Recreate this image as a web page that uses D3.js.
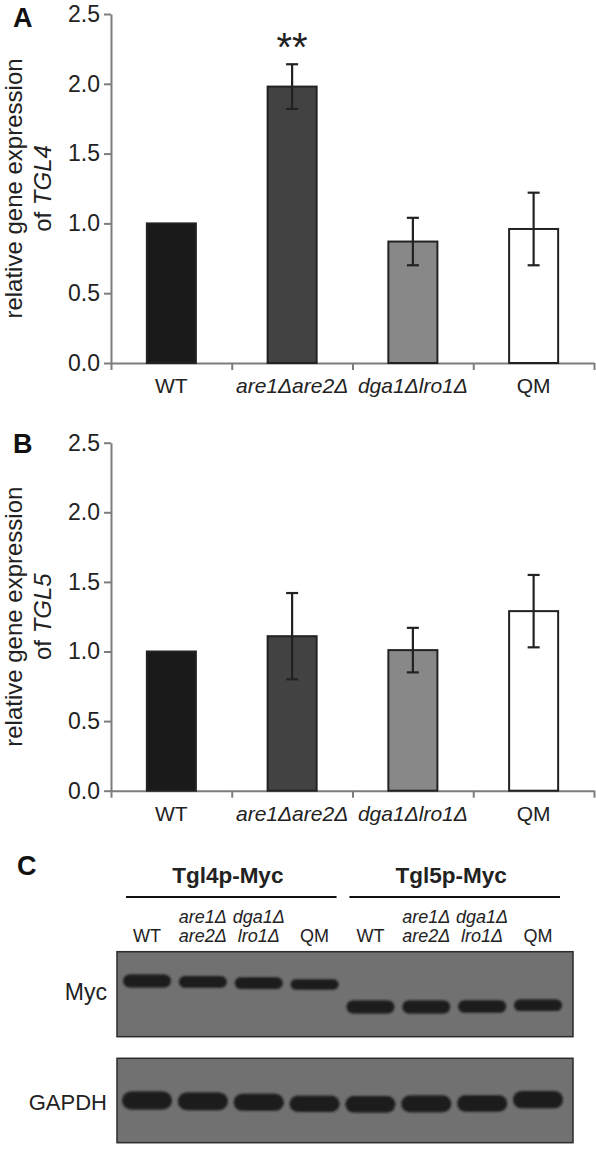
<!DOCTYPE html>
<html><head><meta charset="utf-8">
<script src="https://cdn.jsdelivr.net/npm/d3@7/dist/d3.min.js"></script>
<style>
body{margin:0;background:#fff}
svg{display:block;font-family:"Liberation Sans",Arial,Helvetica,sans-serif}
</style>
</head><body>
<svg id="chart" width="596" height="1165"></svg>
<script>
// ---------- data ----------
const categories = ["WT", "are1Δare2Δ", "dga1Δlro1Δ", "QM"];
const italicCategory = [false, true, true, false];
const barColors = ["#1a1a1a", "#424242", "#888888", "#ffffff"];
const yTicks = [0, 0.5, 1.0, 1.5, 2.0, 2.5];

const tgl4Mean  = [1.00, 1.98, 0.87, 0.96];
const tgl4Upper = [null, 2.14, 1.04, 1.22];
const tgl4Lower = [null, 1.82, 0.70, 0.70];
const tgl4Signif = ["", "**", "", ""];

const tgl5Mean  = [1.00, 1.11, 1.01, 1.29];
const tgl5Upper = [null, 1.42, 1.17, 1.55];
const tgl5Lower = [null, 0.80, 0.85, 1.03];
const tgl5Signif = ["", "", "", ""];

// western blot (panel C)
const blotGroups = ["Tgl4p-Myc", "Tgl5p-Myc"];
const blotLaneTop = ["", "are1Δ", "dga1Δ", "", "", "are1Δ", "dga1Δ", ""];
const blotLaneBottom = ["WT", "are2Δ", "lro1Δ", "QM", "WT", "are2Δ", "lro1Δ", "QM"];
const blotLaneGroup = [0, 0, 0, 0, 1, 1, 1, 1];
const blotRows = ["Myc", "GAPDH"];
// relative migration (Rf, 0 = top of membrane) and relative band signal
const mycRf     = [0.345, 0.355, 0.37, 0.385, 0.65, 0.65, 0.645, 0.63];
const mycSignal = [1.00, 0.92, 0.90, 0.80, 1.00, 1.00, 0.97, 0.90];
const gapdhRf     = [0.50, 0.51, 0.52, 0.54, 0.545, 0.54, 0.535, 0.49];
const gapdhSignal = [1.00, 0.98, 0.95, 0.90, 0.92, 0.92, 0.92, 0.95];

// ---------- drawing ----------
const svg = d3.select("#chart");
const ink = "#222";
const axisGray = "#7d7d7d";

function drawPanel(opts) {
  const {top, bottom, means, uppers, lowers, signif, gene, letter, letterY} = opts;
  const left = 111, right = 594;
  const g = svg.append("g");
  const y = d3.scaleLinear().domain([0, 2.5]).range([bottom, top]);
  const x = d3.scaleBand().domain(categories).range([left, right])
              .paddingInner(0.594).paddingOuter(0.297);

  // y axis
  const ya = g.append("g").attr("transform", `translate(${left},0)`)
    .call(d3.axisLeft(y).tickValues(yTicks).tickFormat(d3.format(".1f")).tickSize(7).tickPadding(4).tickSizeOuter(0));
  ya.select(".domain").attr("stroke", axisGray).attr("stroke-width", 2);
  ya.selectAll(".tick line").attr("stroke", axisGray).attr("stroke-width", 2);
  ya.selectAll(".tick text").attr("font-size", 23).attr("fill", ink).attr("font-family", null);

  // x axis with boundary ticks
  const xb = d3.scaleLinear().domain([0, categories.length]).range([left, right]);
  const xa = g.append("g").attr("transform", `translate(0,${bottom})`)
    .call(d3.axisBottom(xb).tickValues(d3.range(categories.length + 1)).tickFormat("").tickSize(7).tickSizeOuter(0));
  xa.select(".domain").attr("stroke", axisGray).attr("stroke-width", 2);
  xa.selectAll(".tick line").attr("stroke", axisGray).attr("stroke-width", 2);

  const xl = g.append("g").attr("transform", `translate(0,${bottom})`)
    .call(d3.axisBottom(x).tickSize(0).tickPadding(15));
  xl.select(".domain").remove();
  xl.selectAll(".tick text").attr("font-size", 21).attr("fill", ink).attr("font-family", null)
    .attr("font-style", (d, i) => italicCategory[i] ? "italic" : "normal");

  // bars
  g.selectAll("rect.bar").data(means).join("rect")
    .attr("x", (d, i) => x(categories[i]))
    .attr("width", x.bandwidth())
    .attr("y", d => y(d))
    .attr("height", d => y(0) - y(d))
    .attr("fill", (d, i) => barColors[i])
    .attr("stroke", ink).attr("stroke-width", 2);

  // error bars
  const eb = means.map((d, i) => ({i, up: uppers[i], lo: lowers[i]})).filter(d => d.up != null);
  const cx = i => x(categories[i]) + x.bandwidth() / 2;
  const cap = 6;
  const eg = g.append("g").attr("stroke", ink).attr("stroke-width", 2.2);
  eg.selectAll("line.v").data(eb).join("line")
    .attr("x1", d => cx(d.i)).attr("x2", d => cx(d.i)).attr("y1", d => y(d.up)).attr("y2", d => y(d.lo));
  eg.selectAll("line.t").data(eb).join("line")
    .attr("x1", d => cx(d.i) - cap).attr("x2", d => cx(d.i) + cap).attr("y1", d => y(d.up)).attr("y2", d => y(d.up));
  eg.selectAll("line.b").data(eb).join("line")
    .attr("x1", d => cx(d.i) - cap).attr("x2", d => cx(d.i) + cap).attr("y1", d => y(d.lo)).attr("y2", d => y(d.lo));

  // significance
  g.selectAll("text.sig").data(signif.map((s, i) => ({s, i})).filter(d => d.s)).join("text")
    .attr("x", d => cx(d.i)).attr("y", d => y(uppers[d.i]) - 3)
    .attr("text-anchor", "middle").attr("font-size", 40).attr("fill", ink)
    .text(d => d.s);

  // y label
  const midY = (top + bottom) / 2;
  const yl = g.append("text").attr("transform", `translate(22,${midY}) rotate(-90)`)
    .attr("text-anchor", "middle").attr("font-size", 24).attr("fill", ink);
  yl.text("relative gene expression");
  const yl2 = g.append("text").attr("transform", `translate(51,${midY}) rotate(-90)`)
    .attr("text-anchor", "middle").attr("font-size", 24).attr("fill", ink);
  yl2.append("tspan").text("of ");
  yl2.append("tspan").attr("font-style", "italic").text(gene);

  // panel letter
  svg.append("text").attr("x", 13).attr("y", letterY).attr("font-size", 27).attr("font-weight", "bold")
    .attr("fill", "#111").text(letter);
}

drawPanel({top: 14, bottom: 363, means: tgl4Mean, uppers: tgl4Upper, lowers: tgl4Lower,
           signif: tgl4Signif, gene: "TGL4", letter: "A", letterY: 27});
drawPanel({top: 442.7, bottom: 790.7, means: tgl5Mean, uppers: tgl5Upper, lowers: tgl5Lower,
           signif: tgl5Signif, gene: "TGL5", letter: "B", letterY: 453});

// ---------- panel C ----------
svg.append("text").attr("x", 17).attr("y", 875).attr("font-size", 27).attr("font-weight", "bold")
  .attr("fill", "#111").text("C");

const lanes = d3.range(blotLaneBottom.length);
const lx = d3.scalePoint().domain(lanes).range([147, 538]);
const cg = svg.append("g").attr("fill", ink);

// group headers
blotGroups.forEach((name, gi) => {
  const ls = lanes.filter(i => blotLaneGroup[i] === gi);
  const x0 = lx(ls[0]), x1 = lx(ls[ls.length - 1]);
  cg.append("text").attr("x", (x0 + x1) / 2 - 3).attr("y", 883).attr("text-anchor", "middle")
    .attr("font-size", 22.5).attr("font-weight", "bold").text(name);
  cg.append("line").attr("x1", x0 - 21).attr("x2", x1 + 22).attr("y1", 897).attr("y2", 897)
    .attr("stroke", "#111").attr("stroke-width", 2);
});
cg.selectAll("text.lt").data(lanes).join("text")
  .attr("x", i => lx(i)).attr("y", 923).attr("text-anchor", "middle").attr("font-size", 18)
  .attr("font-style", "italic").text(i => blotLaneTop[i]);
cg.selectAll("text.lb").data(lanes).join("text")
  .attr("x", i => lx(i)).attr("y", 942).attr("text-anchor", "middle").attr("font-size", 18)
  .attr("font-style", i => (blotLaneBottom[i] === "WT" || blotLaneBottom[i] === "QM") ? "normal" : "italic")
  .text(i => blotLaneBottom[i]);

const defs = svg.append("defs");
defs.append("filter").attr("id", "blur").attr("x", "-20%").attr("y", "-60%").attr("width", "140%").attr("height", "220%")
  .append("feGaussianBlur").attr("stdDeviation", 1.1);

const blotLeft = lx(0) - 30, blotRight = lx(7) + 35;
const membranes = [
  {row: blotRows[0], top: 951.7, bottom: 1036.7, rf: mycRf, sig: mycSignal, w: 48, h: 13, labelY: 1000, fs: 23},
  {row: blotRows[1], top: 1058.3, bottom: 1142.7, rf: gapdhRf, sig: gapdhSignal, w: 50, h: 18, labelY: 1110, fs: 22}
];
membranes.forEach(m => {
  const ry = d3.scaleLinear().domain([0, 1]).range([m.top, m.bottom]);
  const hs = d3.scaleLinear().domain([0, 1]).range([0, m.h]);
  svg.append("rect").attr("x", blotLeft).attr("y", m.top).attr("width", blotRight - blotLeft)
    .attr("height", m.bottom - m.top).attr("fill", "#717171").attr("stroke", "#2b2b2b").attr("stroke-width", 1.5);
  svg.append("g").attr("filter", "url(#blur)").selectAll("rect").data(lanes).join("rect")
    .attr("x", i => lx(i) - m.w / 2).attr("width", m.w)
    .attr("y", i => ry(m.rf[i]) - hs(m.sig[i]) / 2).attr("height", i => hs(m.sig[i]))
    .attr("rx", i => hs(m.sig[i]) / 2).attr("fill", "#1c1c1c");
  svg.append("text").attr("x", 107).attr("y", m.labelY).attr("text-anchor", "end")
    .attr("font-size", m.fs).attr("fill", ink).text(m.row);
});
</script>
</body></html>
